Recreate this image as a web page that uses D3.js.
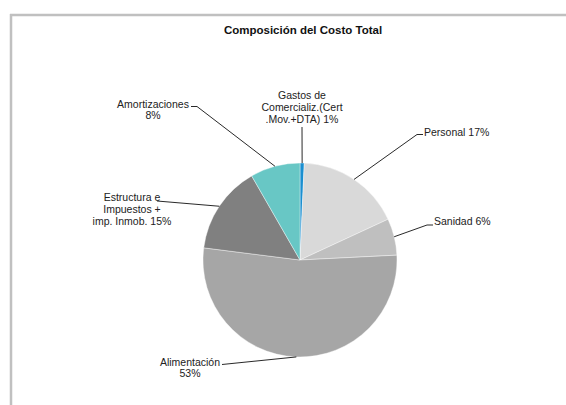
<!DOCTYPE html>
<html>
<head>
<meta charset="utf-8">
<script src="https://cdn.jsdelivr.net/npm/d3@7"></script>
<style>
  html, body { margin: 0; padding: 0; background: #fff; }
  svg { display: block; font-family: "Liberation Sans", Arial, sans-serif; }
</style>
</head>
<body>
<div id="chart"></div>
<script>
// datos del grafico
var categoryLines = [
  ["Gastos de", "Comercializ.(Cert", ".Mov.+DTA)"],
  ["Personal"],
  ["Sanidad"],
  ["Alimentación"],
  ["Estructura e", "Impuestos +", "imp. Inmob."],
  ["Amortizaciones"]
];
var values = [0.7, 17.4, 6.1, 52.8, 14.7, 8.3];
var colors = ["#1b8fd0", "#d9d9d9", "#bfbfbf", "#a6a6a6", "#808080", "#68c7c5"];
var title = "Composición del Costo Total";

var width = 566, height = 405;
var cx = 300, cy = 260, r = 97;

// posicion de las etiquetas (x, y de la primera linea, anchor, pct en linea nueva, puntos del conector)
var labelLayout = [
  { x: 302, y: 99, anchor: "middle", newLine: false, leader: [[302, 127]] },
  { x: 424, y: 135.5, anchor: "start", newLine: false, leader: [[417, 134.5], [423, 134.5]] },
  { x: 434, y: 225, anchor: "start", newLine: false, leader: [[427, 225], [433, 225]] },
  { x: 190, y: 365.5, anchor: "middle", newLine: true, leader: [[222, 364.5]] },
  { x: 132, y: 201, anchor: "middle", newLine: false, leader: [[157, 201]] },
  { x: 153, y: 107.5, anchor: "middle", newLine: true, leader: [[197, 106.5], [191, 106.5]] }
];
var lineH = 11.8;

var svg = d3.select("#chart").append("svg")
  .attr("width", width)
  .attr("height", height);

// marco gris (solo arriba e izquierda visibles)
svg.append("line").attr("x1", 10).attr("x2", width).attr("y1", 15).attr("y2", 15)
  .attr("stroke", "#c0c0c0").attr("stroke-width", 2.5);
svg.append("line").attr("x1", 11).attr("x2", 11).attr("y1", 14).attr("y2", height)
  .attr("stroke", "#c0c0c0").attr("stroke-width", 2.5);

svg.append("text")
  .attr("x", 303).attr("y", 34)
  .attr("text-anchor", "middle")
  .attr("font-size", "11.5px")
  .attr("font-weight", "bold")
  .attr("fill", "#111")
  .text(title);

var pie = d3.pie().sort(null).startAngle(0).endAngle(2 * Math.PI);
var arcs = pie(values);
var arc = d3.arc().innerRadius(0).outerRadius(r);
var edgeArc = d3.arc().innerRadius(r).outerRadius(r);

var pieGroup = svg.append("g").attr("transform", "translate(" + cx + "," + cy + ")");
pieGroup.selectAll("path")
  .data(arcs)
  .enter()
  .append("path")
  .attr("d", arc)
  .attr("fill", function (d, i) { return colors[i]; })
  .attr("stroke", "#fff")
  .attr("stroke-width", 0.4);

// conectores
var lineGen = d3.line();
svg.append("g").selectAll("path")
  .data(arcs)
  .enter()
  .append("path")
  .attr("d", function (d, i) {
    var c = edgeArc.centroid(d);
    var pts = [[cx + c[0], cy + c[1]]].concat(labelLayout[i].leader);
    return lineGen(pts);
  })
  .attr("fill", "none")
  .attr("stroke", "#111")
  .attr("stroke-width", 0.9);

// etiquetas
var labels = svg.append("g").attr("font-size", "10.5px").attr("fill", "#222");
arcs.forEach(function (d, i) {
  var lay = labelLayout[i];
  var pct = Math.round(values[i]) + "%";
  var lines = categoryLines[i].slice();
  if (lay.newLine) lines.push(pct);
  else lines[lines.length - 1] = lines[lines.length - 1] + " " + pct;
  var t = labels.append("text")
    .attr("x", lay.x).attr("y", lay.y)
    .attr("text-anchor", lay.anchor);
  lines.forEach(function (s, k) {
    t.append("tspan").attr("x", lay.x).attr("y", lay.y + k * lineH).text(s);
  });
});
</script>
</body>
</html>
